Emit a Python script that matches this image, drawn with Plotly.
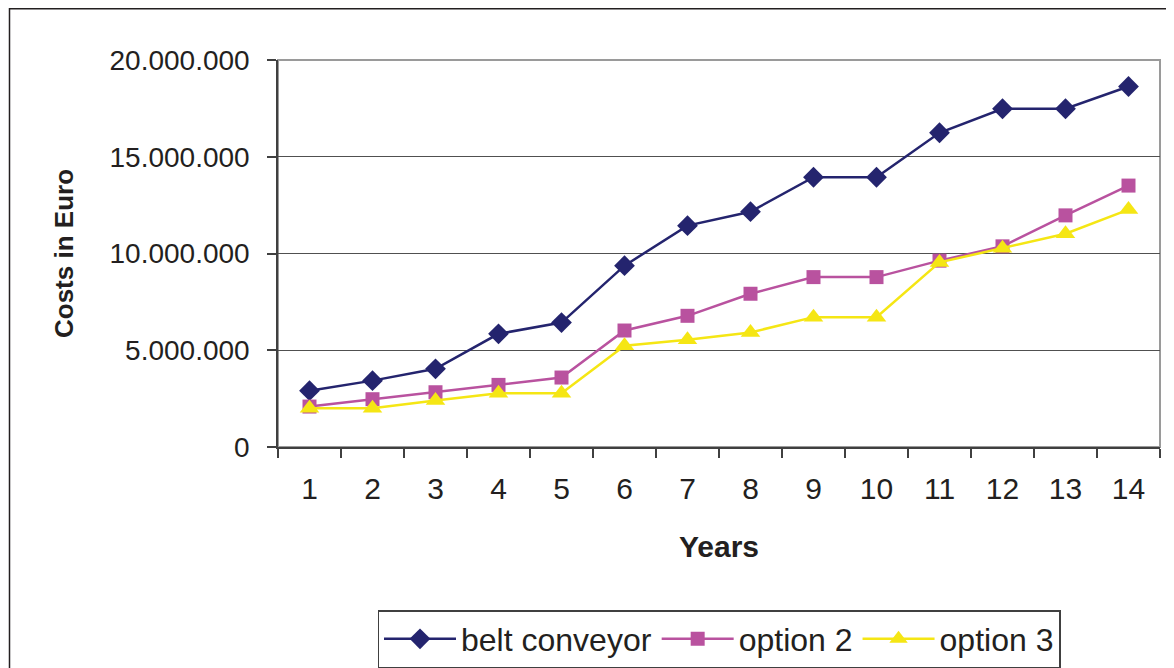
import plotly.graph_objects as go

years = ["1", "2", "3", "4", "5", "6", "7", "8", "9", "10", "11", "12", "13", "14"]
belt_conveyor = [2.91e6, 3.43e6, 4.04e6, 5.85e6, 6.43e6, 9.37e6, 11.44e6, 12.16e6, 13.94e6, 13.94e6, 16.24e6, 17.48e6, 17.48e6, 18.63e6]
option_2 = [2.09e6, 2.47e6, 2.83e6, 3.21e6, 3.59e6, 6.02e6, 6.78e6, 7.92e6, 8.78e6, 8.78e6, 9.63e6, 10.37e6, 11.97e6, 13.51e6]
option_3 = [2.0e6, 2.0e6, 2.4e6, 2.78e6, 2.78e6, 5.23e6, 5.54e6, 5.92e6, 6.71e6, 6.71e6, 9.54e6, 10.27e6, 11.02e6, 12.27e6]
y_ticks = [0, 5e6, 10e6, 15e6, 20e6]

fig = go.Figure()
fig.add_trace(go.Scatter(x=years, y=belt_conveyor, name="belt conveyor", mode="lines+markers",
                         line=dict(color="#24246E", width=2.5),
                         marker=dict(symbol="diamond", size=16, color="#24246E")))
fig.add_trace(go.Scatter(x=years, y=option_2, name="option 2", mode="lines+markers",
                         line=dict(color="#B9529F", width=2.5),
                         marker=dict(symbol="square", size=14, color="#B9529F")))
fig.add_trace(go.Scatter(x=years, y=option_3, name="option 3", mode="lines+markers",
                         line=dict(color="#F5E614", width=2.5),
                         marker=dict(symbol="triangle-up", size=17, color="#F5E614")))

font_main = "Liberation Sans, Arial, sans-serif"

W, H = 1166, 660
L, R, T, B = 270, 14, 52, 221
pw, ph = W - L - R, H - T - B

fig.update_layout(
    width=W, height=H,
    margin=dict(l=L, r=R, t=T, b=B, autoexpand=False),
    paper_bgcolor="white", plot_bgcolor="white",
    separators=",.",
    font=dict(family=font_main, size=28, color="#231F20"),
    showlegend=True,
    legend=dict(orientation="h", xref="container", yref="container",
                x=711 / W, xanchor="center", y=1 - 602 / H, yanchor="top",
                bordercolor="#404040", borderwidth=1.5,
                font=dict(family=font_main, size=32),
                itemwidth=72, tracegroupgap=0),
    xaxis=dict(type="category", range=[-0.5, len(years) - 0.5],
               tickson="boundaries", ticks="outside", ticklen=9,
               tickcolor="#404040", tickwidth=1.5,
               showline=True, linecolor="#404040", linewidth=1.5, mirror=False,
               showgrid=False, tickfont=dict(size=30), ticklabelstandoff=14,
               title=dict(text="<b>Years</b>", font=dict(size=30), standoff=32)),
    yaxis=dict(range=[0, 20e6], tickvals=y_ticks, tickformat=",d", ticks="outside", ticklen=9,
               tickcolor="#404040", tickwidth=1.5,
               showline=True, linecolor="#404040", linewidth=1.5,
               showgrid=True, gridcolor="#505050", gridwidth=1.2,
               zeroline=False, tickfont=dict(size=28), ticklabelstandoff=12,
               title=dict(text="<b>Costs in Euro</b>", font=dict(size=26), standoff=28)),
)

# plot area border (top/right)
fig.add_shape(type="rect", xref="paper", yref="paper", x0=0, x1=1, y0=0, y1=1,
              line=dict(color="#9A9A9A", width=2), layer="below")
# outer frame
fig.add_shape(type="rect", xref="paper", yref="paper",
              x0=(1.5 - L) / pw, x1=(W + 20 - L) / pw,
              y0=-(H + 20 - T - ph) / ph, y1=(ph + T - 0.75) / ph,
              line=dict(color="#231F20", width=1.5))

fig.write_html("out.html")
